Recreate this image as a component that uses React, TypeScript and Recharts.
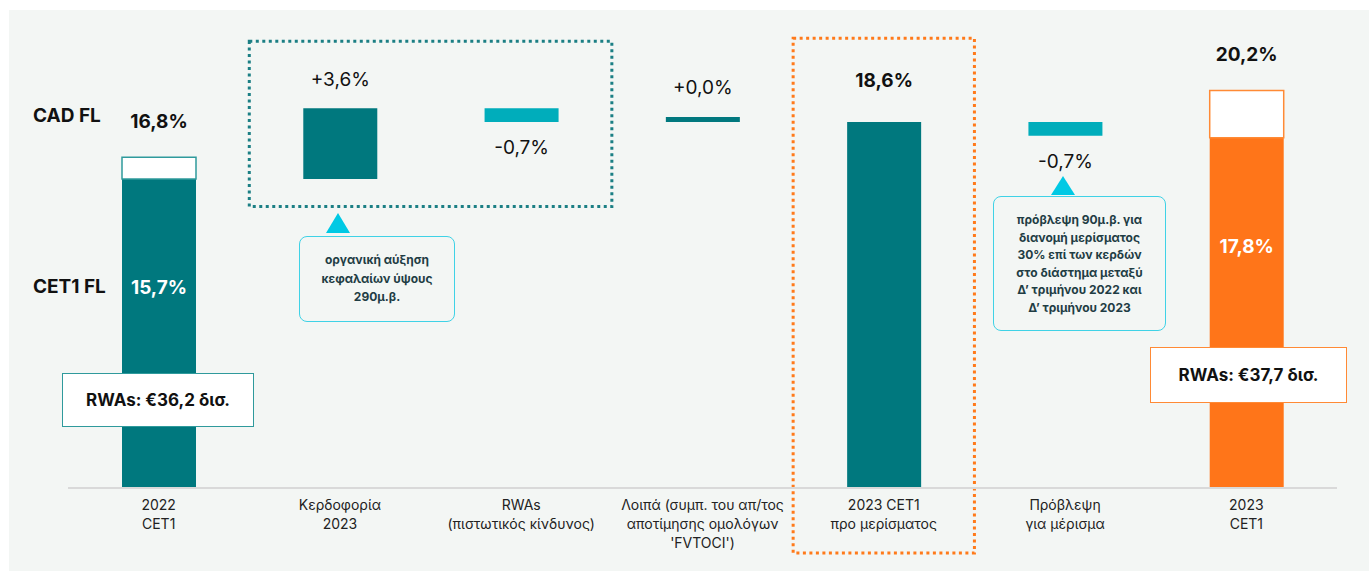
import React from "react";
import {
  BarChart,
  Bar,
  XAxis,
  YAxis,
  Cell,
  LabelList,
  ReferenceArea,
} from "recharts";

const categories = [
  "2022\nCET1",
  "Κερδοφορία\n2023",
  "RWAs\n(πιστωτικός κίνδυνος)",
  "Λοιπά (συμπ. του απ/τος\nαποτίμησης ομολόγων\n'FVTOCI')",
  "2023 CET1\nπρο μερίσματος",
  "Πρόβλεψη\nγια μέρισμα",
  "2023\nCET1",
];
const cet1Values = [15.7, 3.6, -0.7, 0.0, 18.6, -0.7, 17.8];
const isTotal = [true, false, false, false, true, false, true];
const cadValues: (number | null)[] = [16.8, null, null, null, null, null, 20.2];
const rwaLabels = ["RWAs: €36,2 δισ.", "RWAs: €37,7 δισ."];

const TEAL = "#00787e";
const LIGHT_TEAL = "#00adbb";
const ORANGE = "#ff7519";
const CYAN = "#3fd2e6";
const FONT = "Inter, 'Noto Sans', sans-serif";

const fmt = (v: number) => v.toFixed(1).replace(".", ",") + "%";
const fmtSigned = (v: number) => (v < 0 ? "-" : "+") + fmt(Math.abs(v));

// build waterfall rows
let running = 0;
const rows = categories.map((name, i) => {
  const v = cet1Values[i];
  let base = 0;
  let delta = v;
  if (isTotal[i]) {
    running = v;
  } else {
    base = v < 0 ? running + v : running;
    delta = Math.abs(v);
    running = running + v;
  }
  const cad = cadValues[i];
  return {
    name,
    base,
    delta,
    cap: cad != null ? +(cad - v).toFixed(1) : 0,
    deltaAbove: !isTotal[i] && v >= 0 ? fmtSigned(v) : null,
    deltaBelow: !isTotal[i] && v < 0 ? fmtSigned(v) : null,
    totalAbove: isTotal[i] && cad == null ? fmt(v) : null,
    inner: isTotal[i] && cad != null ? fmt(v) : null,
    capLabel: cad != null ? fmt(cad) : null,
  };
});

const barColors = rows.map((r, i) =>
  i === rows.length - 1 ? ORANGE : !isTotal[i] && cet1Values[i] < 0 ? LIGHT_TEAL : TEAL
);

const Tick = (props: any) => {
  const { x, y, payload } = props;
  const lines = String(payload.value).split("\n");
  return (
    <text x={x} y={y} textAnchor="middle" fontSize={14} fill="#222" fontFamily={FONT}>
      {lines.map((l, i) => (
        <tspan key={i} x={x} dy={i === 0 ? 14 : 19}>
          {l}
        </tspan>
      ))}
    </text>
  );
};

const makeLabel =
  (kind: "above" | "below" | "total" | "inner" | "cap") => (props: any) => {
    const { x, y, width, height, value } = props;
    if (value == null || value === "") return null;
    const cx = x + width / 2;
    let ty = y;
    let bold = true;
    let fill = "#111";
    if (kind === "above") {
      ty = y - 29;
      bold = false;
    } else if (kind === "below") {
      ty = y + height + 26;
      bold = false;
    } else if (kind === "total") {
      ty = y - 41;
    } else if (kind === "inner") {
      ty = y + 109;
      fill = "#fff";
    } else {
      ty = y - 36;
    }
    return (
      <text
        x={cx}
        y={ty}
        textAnchor="middle"
        dominantBaseline="central"
        fontSize={19}
        fontWeight={bold ? 700 : 400}
        fill={fill}
        fontFamily={FONT}
      >
        {value}
      </text>
    );
  };

const abs = (s: React.CSSProperties): React.CSSProperties => ({ position: "absolute", ...s });

export default function App() {
  return (
    <div style={abs({ left: 0, top: 0, width: 1369, height: 571, background: "#fff", fontFamily: FONT })}>
      <div style={abs({ left: 9, top: 10, width: 1360, height: 561, background: "#f3f6f4" })} />

      <div style={abs({ left: 0, top: 0 })}>
        <BarChart
          width={1369}
          height={571}
          data={rows}
          margin={{ top: 55, right: 32, bottom: 13, left: 68 }}
          barSize={74}
        >
          <XAxis
            dataKey="name"
            interval={0}
            tickLine={false}
            axisLine={{ stroke: "#d9d9d9", strokeWidth: 2 }}
            tick={<Tick />}
            height={70}
          />
          <YAxis hide domain={[0, 22]} />
          <ReferenceArea
            x1={categories[1]}
            x2={categories[2]}
            y1={14.3}
            y2={22.7}
            ifOverflow="visible"
            fill="none"
            stroke="#1b7f84"
            strokeWidth={3}
            strokeDasharray="3 3.5"
          />
          <ReferenceArea
            x1={categories[4]}
            x2={categories[4]}
            y1={-3.3}
            y2={22.85}
            ifOverflow="visible"
            fill="none"
            stroke="#ff7a1a"
            strokeWidth={3}
            strokeDasharray="3 3.5"
          />
          <Bar dataKey="base" stackId="w" fill="transparent" isAnimationActive={false} />
          <Bar dataKey="delta" stackId="w" minPointSize={5} isAnimationActive={false}>
            {rows.map((_, i) => (
              <Cell key={i} fill={barColors[i]} />
            ))}
            <LabelList dataKey="deltaAbove" content={makeLabel("above")} />
            <LabelList dataKey="deltaBelow" content={makeLabel("below")} />
            <LabelList dataKey="totalAbove" content={makeLabel("total")} />
            <LabelList dataKey="inner" content={makeLabel("inner")} />
          </Bar>
          <Bar dataKey="cap" stackId="w" isAnimationActive={false}>
            {rows.map((_, i) => (
              <Cell
                key={i}
                fill="#fff"
                stroke={i === rows.length - 1 ? "#ff8a35" : "#2f9a9c"}
                strokeWidth={1.5}
              />
            ))}
            <LabelList dataKey="capLabel" content={makeLabel("cap")} />
          </Bar>
        </BarChart>
      </div>

      {/* row labels */}
      <div style={abs({ left: 33, top: 104, fontSize: 19, fontWeight: 700, color: "#111" })}>CAD FL</div>
      <div style={abs({ left: 33, top: 275, fontSize: 19, fontWeight: 700, color: "#111" })}>CET1 FL</div>

      {/* RWAs boxes */}
      <div
        style={abs({
          left: 62, top: 373, width: 190, height: 52, background: "#fff",
          border: "1.5px solid #2f9a9c", display: "flex", alignItems: "center",
          justifyContent: "center", fontSize: 17, fontWeight: 700, color: "#111",
        })}
      >
        {rwaLabels[0]}
      </div>
      <div
        style={abs({
          left: 1150, top: 347, width: 195, height: 54, background: "#fff",
          border: "1.5px solid #ff8a35", display: "flex", alignItems: "center",
          justifyContent: "center", fontSize: 17, fontWeight: 700, color: "#111",
        })}
      >
        {rwaLabels[1]}
      </div>

      {/* callouts */}
      <svg width={1369} height={571} style={abs({ left: 0, top: 0, pointerEvents: "none" })}>
        <polygon points="338,213 326,233 350,233" fill="#00c9e4" />
        <polygon points="1063,176 1051,195 1075,195" fill="#00c9e4" />
      </svg>
      <div
        style={abs({
          left: 299, top: 236, width: 154, height: 84, border: `1.5px solid ${CYAN}`,
          borderRadius: 8, display: "flex", alignItems: "center", justifyContent: "center",
          textAlign: "center", fontSize: 12, fontWeight: 700, color: "#1f3d44", lineHeight: "18.5px",
        })}
      >
        οργανική αύξηση
        <br />
        κεφαλαίων ύψους
        <br />
        290μ.β.
      </div>
      <div
        style={abs({
          left: 993, top: 196, width: 171, height: 133, border: `1.5px solid ${CYAN}`,
          borderRadius: 8, display: "flex", alignItems: "center", justifyContent: "center",
          textAlign: "center", fontSize: 12, fontWeight: 700, color: "#1f3d44", lineHeight: "17.5px",
        })}
      >
        πρόβλεψη 90μ.β. για
        <br />
        διανομή μερίσματος
        <br />
        30% επί των κερδών
        <br />
        στο διάστημα μεταξύ
        <br />
        Δ’ τριμήνου 2022 και
        <br />
        Δ’ τριμήνου 2023
      </div>
    </div>
  );
}
